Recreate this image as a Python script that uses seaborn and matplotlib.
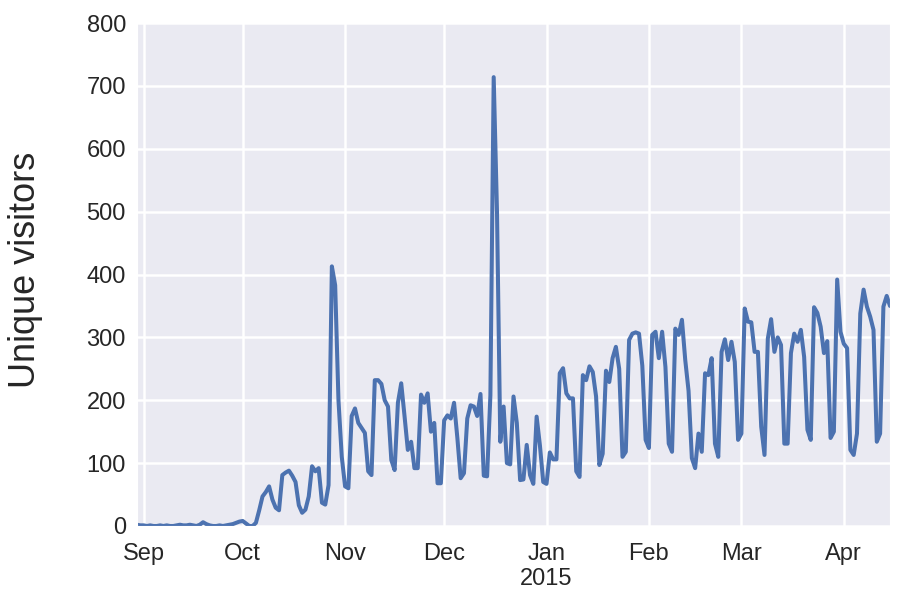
import numpy as np
import pandas as pd
import seaborn as sns
import matplotlib.pyplot as plt

# daily unique visitors
aug_2014 = [2, 1]
sep_2014 = [1, 0, 1, 0, 0, 1, 0, 1, 0, 0, 1, 2, 1, 1, 2, 1, 0, 2, 6, 3,
            1, 0, 0, 1, 0, 1, 2, 3, 5, 7]
oct_2014 = [8, 4, 0, 0, 5, 25, 47, 54, 63, 42, 29, 25, 81, 85, 88, 80,
            70, 33, 21, 26, 47, 95, 87, 92, 37, 34, 65, 413, 383, 200, 110]
nov_2014 = [63, 60, 175, 187, 164, 156, 148, 87, 81, 232, 232, 226, 200,
            190, 105, 89, 196, 227, 175, 121, 134, 92, 92, 209, 196, 211,
            150, 164, 68, 68]
dec_2014 = [168, 176, 171, 196, 140, 76, 84, 171, 192, 190, 175, 210, 80,
            79, 208, 714, 500, 134, 190, 100, 98, 206, 164, 73, 74, 129,
            81, 67, 174, 128, 70]
jan_2015 = [67, 117, 106, 106, 243, 251, 211, 203, 203, 87, 78, 240, 232,
            254, 245, 206, 97, 115, 247, 229, 267, 285, 250, 110, 118, 296,
            306, 308, 306, 255, 137]
feb_2015 = [124, 304, 309, 267, 309, 253, 131, 118, 314, 304, 328, 264,
            215, 108, 92, 147, 118, 243, 240, 267, 131, 110, 277, 297, 264,
            293, 261, 137]
mar_2015 = [147, 346, 325, 324, 277, 277, 158, 113, 298, 329, 277, 300,
            288, 131, 131, 275, 306, 293, 312, 269, 153, 137, 348, 339, 317,
            275, 294, 140, 150, 392, 309]
apr_2015 = [290, 283, 121, 113, 147, 338, 376, 349, 333, 312, 134, 147,
            349, 366, 350]

month_ticks = ["2014-09-01", "2014-10-01", "2014-11-01", "2014-12-01",
               "2015-01-01", "2015-02-01", "2015-03-01", "2015-04-01"]
month_labels = ["Sep", "Oct", "Nov", "Dec", "Jan\n2015", "Feb", "Mar", "Apr"]

visitors = (aug_2014 + sep_2014 + oct_2014 + nov_2014 + dec_2014
            + jan_2015 + feb_2015 + mar_2015 + apr_2015)
dates = pd.date_range("2014-08-30", periods=len(visitors), freq="D")
df = pd.DataFrame({"date": dates, "visitors": visitors})

sns.set_style("darkgrid")
plt.rcParams["font.family"] = ["Liberation Sans", "DejaVu Sans"]

fig, ax = plt.subplots(figsize=(8.99, 5.92), dpi=100)
fig.subplots_adjust(left=0.1524, right=0.990, top=0.961, bottom=0.1115)

sns.lineplot(data=df, x="date", y="visitors", ax=ax, color="#4C72B0",
             linewidth=2.9)

ax.set_xlim(dates[0], dates[-1])
ax.set_ylim(0, 800)
ax.set_yticks(np.arange(0, 801, 100))
ax.set_xticks(pd.to_datetime(month_ticks))
ax.set_xticklabels(month_labels)
ax.tick_params(axis="both", labelsize=17, colors="#262626", length=0)
ax.tick_params(axis="y", pad=8)
ax.tick_params(axis="x", pad=12)
for line in ax.get_xgridlines() + ax.get_ygridlines():
    line.set_linewidth(1.8)

ax.set_xlabel("")
ax.set_ylabel("Unique visitors", fontsize=26, color="#262626")
ax.yaxis.set_label_coords(-0.125, 0.51)

fig.savefig("out.png", dpi=100)
